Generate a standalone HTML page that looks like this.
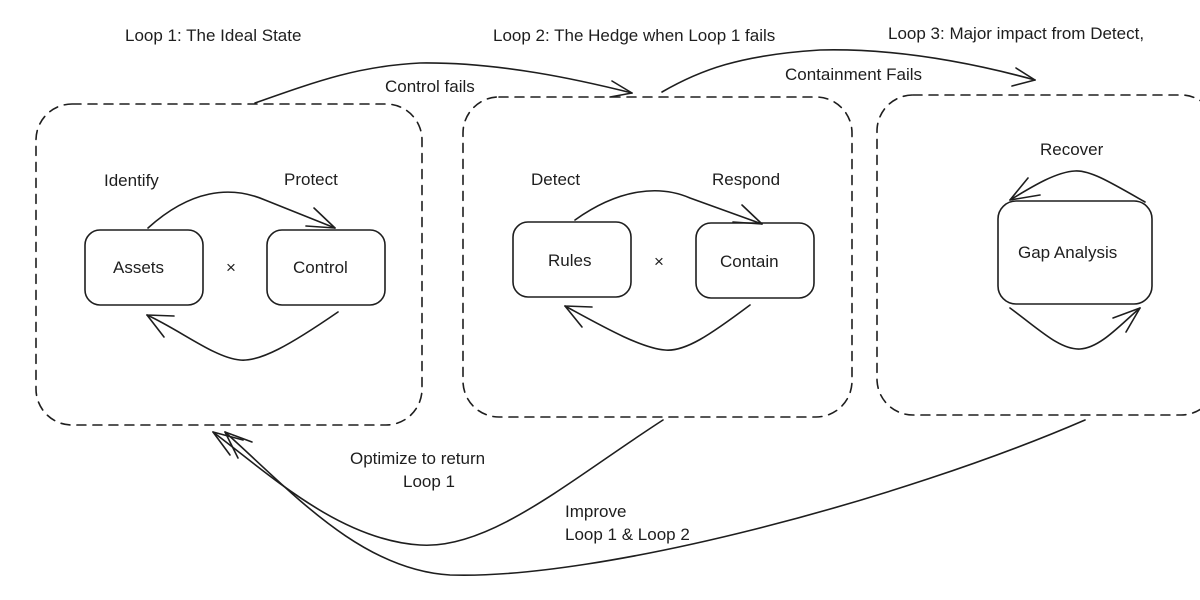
<!DOCTYPE html>
<html><head><meta charset="utf-8"><style>
html,body{margin:0;padding:0;background:#fff;}
svg{display:block;}
text{font-family:"Liberation Sans",sans-serif;font-size:17px;fill:#1e1e1e;}
</style></head><body>
<svg width="1200" height="600" viewBox="0 0 1200 600" xmlns="http://www.w3.org/2000/svg">
<g fill="none" stroke="#1e1e1e" stroke-width="1.6" stroke-linecap="round" stroke-linejoin="round">
<rect x="36" y="104" width="386" height="321" rx="36" stroke-dasharray="9 7"/>
<rect x="463" y="97" width="389" height="320" rx="36" stroke-dasharray="9 7"/>
<rect x="877" y="95" width="340" height="320" rx="36" stroke-dasharray="9 7"/>
<rect x="85" y="230" width="118" height="75" rx="15"/>
<rect x="267" y="230" width="118" height="75" rx="15"/>
<rect x="513" y="222" width="118" height="75" rx="15"/>
<rect x="696" y="223" width="118" height="75" rx="15"/>
<rect x="998" y="201" width="154" height="103" rx="18"/>
<path d="M148 228 C 190 190, 230 185, 265 200 L 335 228"/>
<path d="M335 228 L 314 208 M335 228 L 306 226"/>
<path d="M338 312 C 290 345, 260 362, 240 360 C 215 358, 180 330, 147 315"/>
<path d="M147 315 L 174 316 M147 315 L 164 337"/>
<path d="M575 220 C 620 188, 660 185, 690 198 L 762 224"/>
<path d="M762 224 L 742 205 M762 224 L 733 222"/>
<path d="M750 305 C 710 335, 685 352, 665 350 C 640 348, 600 325, 565 306"/>
<path d="M565 306 L 592 307 M565 306 L 582 327"/>
<path d="M1145 202 C 1110 182, 1090 170, 1075 171 C 1055 172, 1030 188, 1010 200"/>
<path d="M1010 200 L 1040 195 M1010 200 L 1028 178"/>
<path d="M1010 308 C 1040 330, 1060 350, 1080 349 C 1100 348, 1120 325, 1140 308"/>
<path d="M1140 308 L 1113 318 M1140 308 L 1126 332"/>
<path d="M255 103 C 320 80, 360 66, 420 63 C 500 62, 580 80, 632 93"/>
<path d="M632 93 L 612 81 M632 93 L 610 97"/>
<path d="M662 92 C 700 70, 740 55, 820 50 C 900 48, 980 65, 1035 80"/>
<path d="M1035 80 L 1016 68 M1035 80 L 1012 86"/>
<path d="M663 420 C 570 480, 490 550, 420 545 C 340 540, 270 475, 213 432"/>
<path d="M213 432 L 243 440 M213 432 L 230 455"/>
<path d="M1085 420 C 900 500, 600 580, 450 575 C 360 570, 290 490, 225 432"/>
<path d="M225 432 L 252 442 M225 432 L 238 458"/>
</g>
<text x="125" y="41">Loop 1: The Ideal State</text>
<text x="493" y="41">Loop 2: The Hedge when Loop 1 fails</text>
<text x="888" y="39">Loop 3: Major impact from Detect,</text>
<text x="385" y="92">Control fails</text>
<text x="785" y="80">Containment Fails</text>
<text x="104" y="186">Identify</text>
<text x="284" y="185">Protect</text>
<text x="531" y="185">Detect</text>
<text x="712" y="185">Respond</text>
<text x="1040" y="155">Recover</text>
<text x="113" y="273">Assets</text>
<text x="293" y="273">Control</text>
<text x="548" y="266">Rules</text>
<text x="720" y="267">Contain</text>
<text x="1018" y="258">Gap Analysis</text>
<text x="226" y="273">×</text>
<text x="654" y="267">×</text>
<text x="350" y="464">Optimize to return</text>
<text x="403" y="487">Loop 1</text>
<text x="565" y="517">Improve</text>
<text x="565" y="540">Loop 1 &amp; Loop 2</text>
</svg>
</body></html>
